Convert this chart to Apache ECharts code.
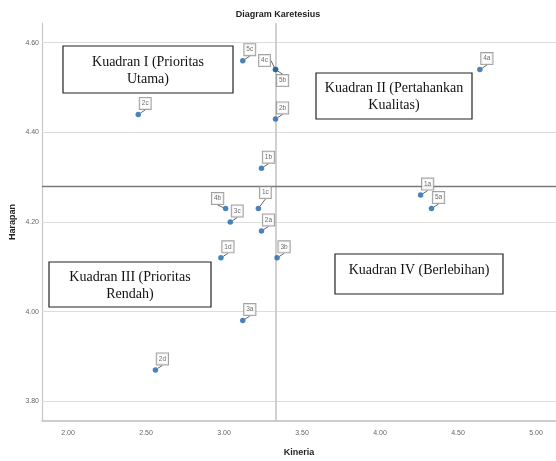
<!DOCTYPE html>
<html>
<head>
<meta charset="utf-8">
<script src="https://cdn.jsdelivr.net/npm/echarts@6/dist/echarts.min.js"></script>
<style>html,body{margin:0;padding:0;background:#fff;}#c{width:556px;height:461px;}</style>
</head>
<body>
<div id="c"></div>
<script>
const titleText = 'Diagram Karetesius';
const xName = 'Kineria';
const yName = 'Harapan';
const pointNames = ['1a','1b','1c','1d','2a','2b','2c','2d','3a','3b','3c','4a','4b','4c','5a','5b','5c'];
const kinerja = [4.26, 3.24, 3.22, 2.98, 3.24, 3.33, 2.45, 2.56, 3.12, 3.34, 3.04, 4.64, 3.01, 3.33, 4.33, 3.33, 3.12];
const harapan = [4.26, 4.32, 4.23, 4.12, 4.18, 4.43, 4.44, 3.87, 3.98, 4.12, 4.20, 4.54, 4.23, 4.54, 4.23, 4.54, 4.56];
const xTicks = [2.0, 2.5, 3.0, 3.5, 4.0, 4.5, 5.0];
const yTicks = [3.8, 4.0, 4.2, 4.4, 4.6];
const meanX = 3.33;
const meanY = 4.28;
const quadrantTexts = ['Kuadran I (Prioritas\nUtama)', 'Kuadran II (Pertahankan\nKualitas)', 'Kuadran III (Prioritas\nRendah)', 'Kuadran IV (Berlebihan)'];

const labelShift = {'4c': [-11, -9], '5b': [7, 11], '4b': [-8, -10], '1c': [7, -16]};
const defaultShift = [7, -11];

const chart = echarts.init(document.getElementById('c'), null, {renderer: 'canvas'});

const gridMarks = yTicks.map(v => ({yAxis: v, lineStyle: {color: '#dcdcdc', width: 1, type: 'solid'}}));
gridMarks.push({xAxis: meanX, lineStyle: {color: '#c4c4c4', width: 1.6, type: 'solid'}});
gridMarks.push({yAxis: meanY, lineStyle: {color: '#7a7a7a', width: 1.3, type: 'solid'}});

function quadBox(x, y, w, h, text, ty) {
  return {
    type: 'group', x: x, y: y, z: 100,
    children: [
      {type: 'rect', shape: {x: 0, y: 0, width: w, height: h}, style: {fill: '#fff', stroke: '#222', lineWidth: 1.2}},
      {type: 'text', x: w / 2, y: ty, style: {text: text, fill: '#111', font: '14px "Liberation Serif"', textAlign: 'center', textVerticalAlign: 'top', lineHeight: 17}}
    ]
  };
}

chart.setOption({
  animation: false,
  backgroundColor: '#fff',
  title: {
    text: titleText, left: 'center', top: 5,
    textStyle: {fontSize: 9, fontWeight: 'bold', color: '#222', fontFamily: 'Liberation Sans'}
  },
  grid: {left: 42, right: 0, top: 23, bottom: 40, containLabel: false, outerBoundsMode: 'none'},
  xAxis: {
    type: 'value', min: 1.833, max: 5.128,
    name: xName, nameLocation: 'middle', nameGap: 27,
    nameTextStyle: {fontSize: 9, fontWeight: 'bold', color: '#222', fontFamily: 'Liberation Sans'},
    axisLine: {show: true, lineStyle: {color: '#bdbdbd', width: 1.5}},
    axisTick: {show: false},
    splitLine: {show: false},
    axisLabel: {customValues: xTicks, formatter: v => v.toFixed(2), fontSize: 7, color: '#666', margin: 9, fontFamily: 'Liberation Sans'}
  },
  yAxis: {
    type: 'value', min: 3.756, max: 4.644,
    name: yName, nameLocation: 'middle', nameGap: 25, nameRotate: 90, nameMoveOverlap: false,
    nameTextStyle: {fontSize: 9, fontWeight: 'bold', color: '#222', fontFamily: 'Liberation Sans'},
    axisLine: {show: true, lineStyle: {color: '#c8c8c8', width: 1.2}},
    axisTick: {show: false},
    splitLine: {show: false},
    axisLabel: {customValues: yTicks, formatter: v => v.toFixed(2), fontSize: 7, color: '#666', margin: 3, fontFamily: 'Liberation Sans'}
  },
  series: [{
    type: 'scatter',
    symbol: 'circle', symbolSize: 5.5,
    itemStyle: {color: '#1a64a8'},
    data: pointNames.map((n, i) => ({name: n, value: [kinerja[i], harapan[i]]})),
    label: {
      show: true, position: 'inside', formatter: p => p.name,
      fontSize: 6.5, color: '#444', fontFamily: 'Liberation Sans',
      backgroundColor: '#fff', borderColor: '#8a8a8a', borderWidth: 1, padding: [2, 2, 2, 2]
    },
    labelLine: {show: true, lineStyle: {color: '#666', width: 1}},
    labelLayout: function (p) {
      const s = labelShift[pointNames[p.dataIndex]] || defaultShift;
      return {dx: s[0], dy: s[1]};
    },
    markLine: {
      silent: true, symbol: 'none', label: {show: false}, animation: false,
      data: gridMarks
    },
    z: 5
  }],
  graphic: [
    quadBox(63, 46, 170, 47, quadrantTexts[0], 8),
    quadBox(316, 73, 156, 46, quadrantTexts[1], 7),
    quadBox(49, 262, 162, 45, quadrantTexts[2], 7),
    quadBox(335, 254, 168, 40, quadrantTexts[3], 8)
  ]
});
</script>
</body>
</html>
